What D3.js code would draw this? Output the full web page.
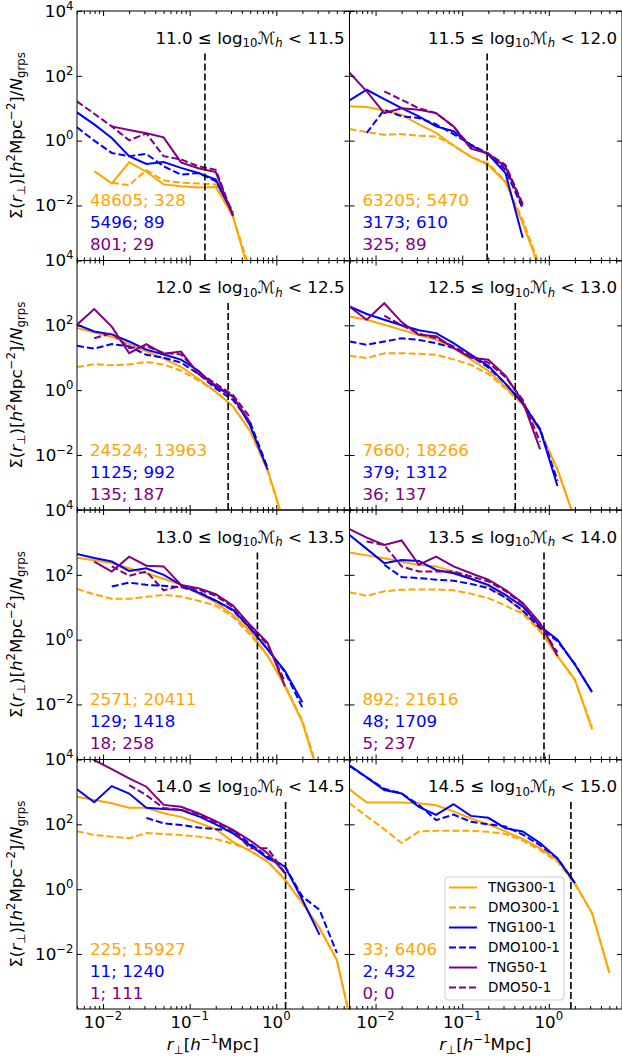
<!DOCTYPE html>
<html>
<head>
<meta charset="utf-8">
<script src="https://cdn.jsdelivr.net/npm/d3@7"></script>
<style>
  body { margin: 0; background: #fff; }
  svg { display: block; font-family: "DejaVu Sans", sans-serif; }
</style>
</head>
<body>
<div id="chart"></div>
<script>
const _ = null;

// halo mass bin edges (log10 M_h)
const massEdges = ["11.0", "11.5", "12.0", "12.5", "13.0", "13.5", "14.0", "14.5", "15.0"];

// projected radius bin centres [h^-1 Mpc]
const rBins = [0.005, 0.0079, 0.0126, 0.02, 0.0316, 0.05, 0.0794, 0.126, 0.2, 0.316,
               0.5, 0.794, 1.26, 2.0, 3.16, 5.0, 7.94];

// dashed vertical line per mass bin
const rVir = [0.15, 0.194, 0.278, 0.41, 0.605, 0.88, 1.28, 1.8];

// number of groups; number of ... per simulation, per mass bin
const nTNG300 = [48605, 63205, 24524, 7660, 2571, 892, 225, 33];
const nDMO300 = [328, 5470, 13963, 18266, 20411, 21616, 15927, 6406];
const nTNG100 = [5496, 3173, 1125, 379, 129, 48, 11, 2];
const nDMO100 = [89, 610, 992, 1312, 1418, 1709, 1240, 432];
const nTNG50 = [801, 325, 135, 36, 18, 5, 1, 0];
const nDMO50 = [29, 89, 187, 137, 258, 237, 111, 0];

// log10 Sigma(r), one row per mass bin, aligned with rBins
const logTNG300 = [
  [_, -0.94, -1.32, -0.67, -0.96, -1.35, -1.41, -1.45, -1.43, -2.33, -4.2],
  [1.06, 1.04, 0.93, 0.8, 0.5, 0.24, -0.15, -0.5, -0.75, -1.28, -2.55, -4.0],
  [1.92, 1.78, 1.65, 1.42, 1.2, 0.97, 0.72, 0.35, -0.05, -0.5, -1.27, -2.45, -4.2],
  [2.27, 2.17, 2.02, 1.86, 1.7, 1.55, 1.3, 0.95, 0.6, 0.1, -0.45, -1.27, -2.45, -4.0],
  [2.53, 2.45, 2.36, 2.2, 2.05, 1.88, 1.69, 1.42, 1.15, 0.77, 0.25, -0.5, -1.44, -2.55, -4.3],
  [2.69, 2.6, 2.51, 2.4, 2.3, 2.26, 2.1, 1.88, 1.64, 1.3, 0.87, 0.31, -0.51, -1.23, -2.77],
  [2.85, 2.75, 2.65, 2.51, 2.51, 2.34, 2.23, 2.05, 1.85, 1.46, 1.17, 0.85, 0.29, -0.43, -1.2, -2.18, -4.6],
  [3.08, 2.67, 2.67, 2.67, 2.65, 2.59, 2.4, 2.18, 2.0, 1.78, 1.55, 1.26, 0.9, 0.19, -0.74, -2.58]
];
const logDMO300 = [
  [_, _, -1.30, -1.38, -0.91, -1.23, -1.30, -1.32, -1.35, -2.35, -4.0],
  [0.36, 0.26, 0.18, 0.2, 0.15, 0.13, -0.15, -0.5, -0.7, -1.25, -2.45, -3.9],
  [0.71, 0.80, 0.77, 0.79, 0.87, 0.79, 0.6, 0.3, -0.05, -0.5, -1.27, -2.5, -4.2],
  [1.06, 0.99, 1.14, 1.14, 1.12, 1.09, 0.95, 0.78, 0.5, 0.05, -0.45, -1.27, -2.45, -4.0],
  [1.56, 1.40, 1.26, 1.26, 1.32, 1.38, 1.33, 1.2, 1.05, 0.7, 0.15, -0.5, -1.4, -2.5, -4.2],
  [1.46, 1.35, 1.49, 1.54, 1.55, 1.55, 1.52, 1.42, 1.28, 1.05, 0.8, 0.25, -0.5, -1.25, -2.7],
  [1.79, 1.67, 1.62, 1.57, 1.73, 1.7, 1.67, 1.62, 1.55, 1.4, 1.2, 0.85, 0.3, -0.43, -1.2, -2.2, -4.5],
  [2.65, 2.25, 1.85, 1.42, 1.78, 1.8, 1.8, 1.8, 1.77, 1.7, 1.5, 1.2, 0.85, 0.15, -0.74, -2.58]
];
const logTNG100 = [
  [0.87, 0.5, 0.08, -0.48, -0.72, -0.66, -0.84, -1.0, -1.2, -2.28],
  [1.24, 1.57, 1.28, 1.0, 0.75, 0.44, 0.29, -0.15, -0.42, -1.0, -3.0],
  [2.02, 1.81, 1.72, 1.5, 1.25, 1.1, 0.94, 0.6, 0.1, -0.19, -1.1, -2.45],
  [2.58, 2.35, 2.17, 2.0, 1.85, 1.76, 1.45, 1.1, 0.75, 0.2, -0.4, -1.22, -2.96],
  [2.64, 2.52, 2.41, 2.12, 2.2, 2.0, 1.69, 1.45, 1.2, 0.92, 0.35, -0.3, -0.97, -1.93],
  [3.23, 2.8, 2.36, 2.46, 2.43, 2.15, 2.05, 1.88, 1.69, 1.38, 1.02, 0.41, 0.0, -0.77, -1.62],
  [3.08, 2.68, 3.18, 2.95, 2.51, 2.47, 2.44, 2.25, 2.0, 1.72, 1.35, 0.95, 0.7, -0.33, -1.41],
  [3.82, 3.45, 3.06, 2.95, 2.54, 2.29, 2.62, 2.26, 2.2, 1.88, 1.78, 1.42, 0.95, 0.19]
];
const logDMO100 = [
  [0.41, 0.0, -0.38, -0.48, -0.41, -0.79, -1.05, -1.0, -1.25, -2.2],
  [_, 0.24, 0.95, 0.75, 0.7, 0.5, 0.2, -0.12, -0.4, -0.9, -2.1],
  [1.37, 1.28, 1.42, 1.35, 1.09, 1.0, 0.85, 0.5, 0.05, -0.3, -1.0, -2.4],
  [1.50, 1.40, 1.50, 1.6, 1.55, 1.45, 1.3, 1.05, 0.7, 0.2, -0.4, -1.2, -2.8],
  [_, _, 1.64, 1.76, 1.69, 1.66, 1.62, 1.48, 1.2, 0.9, 0.35, -0.3, -1.0, -2.1],
  [_, _, 2.31, 1.93, 1.9, 1.85, 1.82, 1.72, 1.59, 1.3, 0.9, 0.35, -0.05, -0.75, -1.62],
  [_, _, _, _, 2.2, 2.03, 1.98, 1.9, 1.85, 1.8, 1.4, 1.0, 0.7, -0.23, -0.64, -1.97],
  [3.8, 3.45, 3.1, 2.95, 2.6, 2.13, 2.3, 2.08, 2.0, 1.93, 1.68, 1.35, 0.95, 0.19]
];
const logTNG50 = [
  [_, _, 0.44, 0.33, 0.23, 0.10, -0.67, -0.85, -0.97, -2.33],
  [2.10, 1.52, 0.85, 1.0, 0.95, 0.85, 0.44, -0.25, -0.40, -0.81, -2.0],
  [2.02, 2.5, 1.96, 1.14, 1.42, 1.12, 1.19, 0.5, 0.15, -0.2, -1.0],
  [2.58, 2.17, 2.68, 2.1, 1.71, 1.66, 1.3, 1.0, 0.94, 0.45, -0.35, -1.83],
  [_, 2.41, 2.1, 2.56, 2.28, 2.26, 1.69, 1.59, 1.4, 1.05, 0.45, -0.1, -1.44],
  [3.41, 3.15, 2.92, 3.06, 2.31, 2.56, 2.26, 2.05, 1.85, 1.54, 1.13, 0.51, -0.51],
  [4.3, 3.98, 3.7, 3.42, 3.16, 2.6, 2.54, 2.34, 2.1, 1.83, 1.5, 1.11, 0.49],
  []
];
const logDMO50 = [
  [1.21, 0.83, 0.44, 0.01, 0.22, -0.48, -0.58, -0.79, -0.9, -2.3],
  [_, _, 1.52, 1.26, 1.0, 0.85, 0.44, -0.2, -0.40, -0.75, -1.95],
  [_, 1.6, 1.76, 1.3, 1.35, 1.15, 1.1, 0.55, 0.2, -0.15, -0.85],
  [_, _, 2.3, 2.0, 1.75, 1.6, 1.35, 1.05, 0.85, 0.4, -0.3, -1.6],
  [_, _, 2.26, 1.97, 2.1, 1.52, 1.66, 1.55, 1.35, 1.0, 0.4, -0.15, -1.3],
  [_, 3.03, 2.92, 2.26, 2.1, 2.1, 2.1, 1.95, 1.8, 1.5, 1.1, 0.45, -0.4],
  [_, _, _, 3.21, 2.9, 2.5, 2.45, 2.3, 2.05, 1.8, 1.26, 1.26, 0.5],
  []
];

const sims = [
  { name: "TNG300-1", color: "#ffa500", dash: null,  prof: logTNG300 },
  { name: "DMO300-1", color: "#ffa500", dash: "7,3", prof: logDMO300 },
  { name: "TNG100-1", color: "#0000ff", dash: null,  prof: logTNG100 },
  { name: "DMO100-1", color: "#0000ff", dash: "7,3", prof: logDMO100 },
  { name: "TNG50-1",  color: "#800080", dash: null,  prof: logTNG50 },
  { name: "DMO50-1",  color: "#800080", dash: "7,3", prof: logDMO50 }
];
const countRows = [
  { color: "#ffa500", a: nTNG300, b: nDMO300 },
  { color: "#0000ff", a: nTNG100, b: nDMO100 },
  { color: "#800080", a: nTNG50,  b: nDMO50 }
];

const width = 622, height = 1059;
const left = 77, top0 = 11, pw = 272.5, ph = 249.5;
const fs = 16.7;

const svg = d3.select("#chart").append("svg")
    .attr("width", width)
    .attr("height", height);
const defs = svg.append("defs");

const x = d3.scaleLog().domain([0.005, 7]).range([0, pw]);
const y = d3.scaleLog().domain([2e-4, 1e4]).range([ph, 0]);

const xMajor = [0.01, 0.1, 1];
const xMinor = x.ticks().filter(v => Math.abs(Math.log10(v) - Math.round(Math.log10(v))) > 1e-6);
const yMajor = [1e-2, 1, 1e2, 1e4];

const line = d3.line()
    .defined(d => d[1] != null)
    .x(d => x(d[0]))
    .y(d => y(Math.pow(10, d[1])));

// text with sub/superscripts, parts = [[string, kind]]
function rich(t, parts, size) {
  let cur = 0;
  parts.forEach(([s, kind]) => {
    const sub = kind.startsWith("sub"), sup = kind.startsWith("sup");
    const shift = sub ? 0.22 * size : sup ? -0.42 * size : 0;
    t.append("tspan")
        .attr("dy", shift - cur)
        .attr("font-size", (sub || sup) ? size * 0.7 : size)
        .attr("font-style", kind.endsWith("i") ? "italic" : null)
        .text(s);
    cur = shift;
  });
}

function expLabel(v) {
  const e = Math.round(Math.log10(v));
  return [["10", "n"], [(e < 0 ? "\u2212" : "") + Math.abs(e), "sup"]];
}

for (let i = 0; i < 8; i++) {
  const col = i % 2, row = Math.floor(i / 2);
  const g = svg.append("g")
      .attr("transform", `translate(${left + col * pw},${top0 + row * ph})`);

  defs.append("clipPath").attr("id", "clip" + i)
    .append("rect").attr("width", pw).attr("height", ph);

  const plot = g.append("g").attr("clip-path", `url(#clip${i})`);

  sims.forEach(s => {
    const vals = s.prof[i];
    if (!vals.length) return;
    plot.append("path")
        .datum(vals.map((v, j) => [rBins[j], v]))
        .attr("fill", "none")
        .attr("stroke", s.color)
        .attr("stroke-width", 2)
        .attr("stroke-dasharray", s.dash)
        .attr("d", line);
  });

  plot.append("line")
      .attr("x1", x(rVir[i])).attr("x2", x(rVir[i]))
      .attr("y1", ph).attr("y2", y(Math.pow(10, 2.7)))
      .attr("stroke", "#000")
      .attr("stroke-width", 1.6)
      .attr("stroke-dasharray", "7,3");

  // inward ticks on all sides
  const axes = [
    [d3.axisBottom, `translate(0,${ph})`, x, xMajor, 5],
    [d3.axisBottom, `translate(0,${ph})`, x, xMinor, 3],
    [d3.axisTop, null, x, xMajor, 5],
    [d3.axisTop, null, x, xMinor, 3],
    [d3.axisLeft, null, y, yMajor, 5],
    [d3.axisRight, `translate(${pw},0)`, y, yMajor, 5]
  ];
  axes.forEach(([ax, tr, sc, vals, len]) => {
    g.append("g")
        .attr("transform", tr)
        .call(ax(sc).tickValues(vals).tickSizeInner(-len).tickSizeOuter(0).tickFormat(() => ""))
        .call(a => a.select(".domain").remove())
        .call(a => a.selectAll("line").attr("stroke", "#000"));
  });

  g.append("rect")
      .attr("width", pw).attr("height", ph)
      .attr("fill", "none").attr("stroke", "#000").attr("stroke-width", 1);

  // mass bin title
  rich(g.append("text")
      .attr("x", pw - 5).attr("y", 32.5)
      .attr("text-anchor", "end").attr("fill", "#000"),
    [[massEdges[i] + " \u2264 log", "n"], ["10", "sub"], ["\u2133", "n"], ["h", "subi"],
     [" < " + massEdges[i + 1], "n"]], fs);

  // group counts
  countRows.forEach((c, k) => {
    g.append("text")
        .attr("x", 13).attr("y", 195 + 22 * k)
        .attr("fill", c.color)
        .attr("font-size", fs)
        .text(`${c.a[i]}; ${c.b[i]}`);
  });

  if (col === 0) {
    yMajor.forEach(v => {
      rich(g.append("text")
          .attr("x", -3.5).attr("y", y(v) + 5.8)
          .attr("text-anchor", "end"), expLabel(v), fs);
    });
    rich(g.append("text")
        .attr("text-anchor", "middle")
        .attr("transform", `translate(${21.5 - left},${ph / 2}) rotate(-90)`),
      [["\u03a3(", "n"], ["r", "i"], ["\u22a5", "sub"], [")[", "n"], ["h", "i"], ["2", "sup"],
       ["Mpc", "n"], ["\u22122", "sup"], ["]/", "n"], ["N", "i"], ["grps", "sub"]], fs);
  }

  if (row === 3) {
    xMajor.forEach(v => {
      rich(g.append("text")
          .attr("x", x(v)).attr("y", ph + 18.5)
          .attr("text-anchor", "middle"), expLabel(v), fs);
    });
    rich(g.append("text")
        .attr("x", pw / 2 - 0.5).attr("y", ph + 41)
        .attr("text-anchor", "middle"),
      [["r", "i"], ["\u22a5", "sub"], ["[", "n"], ["h", "i"], ["\u22121", "sup"], ["Mpc]", "n"]], fs);
  }

  if (i === 7) {
    const lg = g.append("g").attr("transform", `translate(${445 - left - pw},${877 - top0 - 3 * ph})`);
    lg.append("rect")
        .attr("width", 119).attr("height", 123)
        .attr("rx", 3)
        .attr("fill", "#fff").attr("fill-opacity", 0.8)
        .attr("stroke", "#cccccc").attr("stroke-width", 1);
    sims.forEach((s, k) => {
      const yy = 10.5 + 20 * k;
      lg.append("line")
          .attr("x1", 4).attr("x2", 32)
          .attr("y1", yy).attr("y2", yy)
          .attr("stroke", s.color).attr("stroke-width", 2)
          .attr("stroke-dasharray", s.dash);
      lg.append("text")
          .attr("x", 43).attr("y", yy + 4.8)
          .attr("font-size", 13.5)
          .text(s.name);
    });
  }
}
</script>
</body>
</html>
